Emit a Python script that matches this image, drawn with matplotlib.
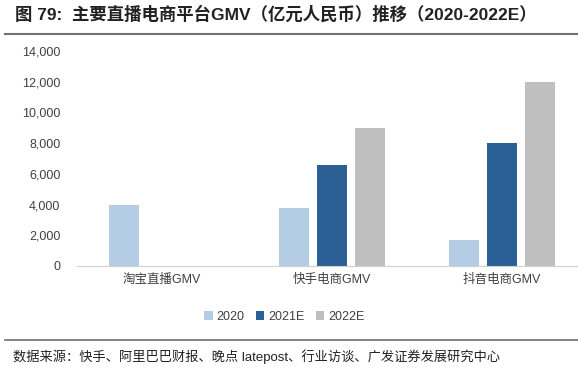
import numpy as np
import matplotlib.pyplot as plt
from matplotlib.ticker import FuncFormatter

plt.rcParams['font.family'] = ['Liberation Sans', 'Noto Sans CJK SC']

# data (亿元人民币)
categories = ['淘宝直播GMV', '快手电商GMV', '抖音电商GMV']
series_names = ['2020', '2021E', '2022E']
gmv_2020 = [4000, 3800, 1700]
gmv_2021e = [np.nan, 6600, 8000]
gmv_2022e = [np.nan, 9000, 12000]
y_ticks = [0, 2000, 4000, 6000, 8000, 10000, 12000, 14000]

colors = ['#b4cce4', '#2a6096', '#bfbfbf']

fig = plt.figure(figsize=(5.78, 3.75), dpi=100)
ax = fig.add_axes([77 / 578, 1 - 266 / 375, 501 / 578, 215 / 375])

x = np.arange(len(categories))
width = 0.176
offsets = [-0.224, 0.0, 0.224]
for vals, name, c, off in zip([gmv_2020, gmv_2021e, gmv_2022e], series_names, colors, offsets):
    ax.bar(x + off, vals, width=width, color=c, label=name)

ax.set_xlim(-0.5, 2.447)
ax.set_ylim(0, 14000)
ax.set_yticks(y_ticks)
ax.yaxis.set_major_formatter(FuncFormatter(lambda v, p: f'{int(v):,}'))
ax.set_xticks(x)
ax.set_xticklabels(categories)
ax.tick_params(axis='both', length=0, labelsize=9, colors='#404040')
ax.tick_params(axis='y', pad=12)
ax.tick_params(axis='x', pad=6)
for s in ['top', 'right', 'left']:
    ax.spines[s].set_visible(False)
ax.spines['bottom'].set_color('#d0d0d0')

leg = fig.legend(loc='center', bbox_to_anchor=(284 / 578, 1 - 317 / 375), ncol=3,
                 frameon=False, fontsize=9, handlelength=0.7, handleheight=0.7,
                 handletextpad=0.3, columnspacing=0.9)
for t in leg.get_texts():
    t.set_color('#404040')

# title and source
fig.text(15 / 578, 1 - 14 / 375, '图 79:  主要直播电商平台GMV（亿元人民币）推移（2020-2022E）',
         fontsize=12.5, fontweight='bold', va='center', ha='left', color='#222222')
fig.add_artist(plt.Line2D([5 / 578, 1], [1 - 34 / 375] * 2, color='#707070', lw=1.5))
fig.add_artist(plt.Line2D([5 / 578, 1], [1 - 340 / 375] * 2, color='#707070', lw=1.2))
fig.text(13 / 578, 1 - 357 / 375, '数据来源：快手、阿里巴巴财报、晚点 latepost、行业访谈、广发证券发展研究中心',
         fontsize=9.5, va='center', ha='left', color='#222222')

fig.savefig('out.png', dpi=100)
